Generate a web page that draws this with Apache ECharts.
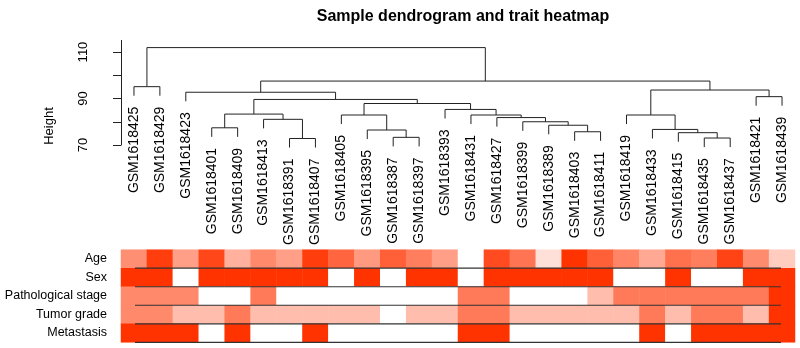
<!DOCTYPE html>
<html>
<head>
	<meta charset="utf-8">
	<title>Sample dendrogram and trait heatmap</title>
</head>
<body style="margin:0">
<script type="text/javascript" src="https://cdn.jsdelivr.net/npm/echarts@6/dist/echarts.min.js"></script>
<div id="container" style="width: 800px;height: 348px;"></div>
<script type="text/javascript">
	// 样本顺序（树的叶子，从左到右）
	var leaves = ['GSM1618425','GSM1618429','GSM1618423','GSM1618401','GSM1618409','GSM1618413',
		'GSM1618391','GSM1618407','GSM1618405','GSM1618395','GSM1618387','GSM1618397','GSM1618393',
		'GSM1618431','GSM1618427','GSM1618399','GSM1618389','GSM1618403','GSM1618411','GSM1618419',
		'GSM1618433','GSM1618415','GSM1618435','GSM1618437','GSM1618421','GSM1618439'];

	// hclust 风格的合并表：负数 = 叶子(-序号)，正数 = 之前的合并行号(从1开始)
	var mergeA = [-7, -11, -23, -22, -18, -21, -10, -4, -17, -16, -6, -15, -9, -14, -20, 8, -13, 13, 16, -25, -3, 15, -1, 21, 23];
	var mergeB = [-8, -12, -24, 3, -19, 4, 2, -5, 5, 9, 1, 10, 7, 12, 6, 11, 14, 17, 18, -26, 19, 20, -2, 22, 24];
	var mergeHeight = [72.8, 73.3, 73.0, 75.3, 75.7, 76.7, 76.45, 77.4, 78.5, 80.0, 81.05, 81.8, 82.9, 82.9, 82.9,
		83.3, 85.3, 87.85, 89.6, 90.8, 92.7, 93.65, 95.1, 97.5, 111.9];
	var leafHang = 3.9;

	// 性状热图
	var traits = ['Age', 'Sex', 'Pathological stage', 'Tumor grade', 'Metastasis'];
	var age = [0.55,0.95,0.47,0.9,0.38,0.58,0.47,0.95,0.75,0.5,0.78,0.63,0.47,0,0.88,0.68,0.15,1,0.78,0.6,0.42,0.7,0.63,0.92,0.57,0.25];
	var sex = [1,1,0,1,1,1,1,1,0,1,0,1,1,0,1,1,1,1,1,0,0,1,0,0,1,1];
	var stage = [0.58,0.58,0.58,0,0,0.65,0,0,0,0,0,0,0,0.65,0.65,0,0,0,0.32,0.65,0.65,0.65,0.65,0.65,0.65,1];
	var grade = [0.58,0.58,0.32,0.32,0.65,0.32,0.32,0.32,0.32,0.32,0,0.32,0.32,0.65,0.65,0.32,0.32,0.32,0.32,0.32,0.65,0.32,0.65,0.65,0.32,1];
	var meta = [1,1,1,0,1,0,0,1,0,0,0,0,0,1,1,0,0,0,0,0,1,0,1,1,1,1];

	var font = 'Liberation Sans, Arial, Helvetica, sans-serif';

	// 计算每个节点的位置
	var nodeX = [], nodeH = [];
	var leafBottom = [];
	function childX(c) { return c < 0 ? (-c - 1) + 0.5 : nodeX[c - 1]; }
	var mergeData = [];
	for (var k = 0; k < mergeA.length; k++) {
		var a = mergeA[k], b = mergeB[k], h = mergeHeight[k];
		var xa = childX(a), xb = childX(b);
		nodeX.push((xa + xb) / 2);
		nodeH.push(h);
		var ya = a < 0 ? h - leafHang : nodeH[a - 1];
		var yb = b < 0 ? h - leafHang : nodeH[b - 1];
		if (a < 0) leafBottom[-a - 1] = ya;
		if (b < 0) leafBottom[-b - 1] = yb;
		mergeData.push([xa, xb, h, ya, yb]);
	}
	var leafData = [];
	for (var i = 0; i < leaves.length; i++) {
		leafData.push([i + 0.5, leafBottom[i]]);
	}

	var heatData = [];
	var rows = [age, sex, stage, grade, meta];
	for (var r = 0; r < rows.length; r++) {
		for (var c = 0; c < leaves.length; c++) {
			heatData.push([c, r, rows[r][c]]);
		}
	}
	var sepData = [];
	for (var r = 0; r < traits.length; r++) sepData.push([0, r]);

	var myChart = echarts.init(document.getElementById('container'));
	var option = {
		backgroundColor: '#fff',
		animation: false,
		title: {
			text: 'Sample dendrogram and trait heatmap',
			left: 458, top: 4, textAlign: 'center',
			textStyle: { fontFamily: font, fontSize: 16, fontWeight: 'bold', color: '#000' }
		},
		graphic: [{
			type: 'text', x: 49, y: 126, rotation: Math.PI / 2,
			style: { text: 'Height', fontFamily: font, fontSize: 13, fill: '#000', align: 'center', verticalAlign: 'middle' }
		}],
		grid: [
			{ left: 121, right: 5, top: 40.4, height: 104.6 },
			{ left: 121, right: 5, top: 249.7, height: 92.6 },
			{ left: 135, right: 19, top: 249.7, height: 92.6 }
		],
		xAxis: [
			{ gridIndex: 0, type: 'value', min: 0, max: leaves.length, show: false },
			{ gridIndex: 1, type: 'category', data: leaves, show: false },
			{ gridIndex: 2, type: 'value', min: 0, max: 1, show: false }
		],
		yAxis: [
			{
				gridIndex: 0, type: 'value', min: 70, max: 115, offset: 11,
				axisLine: { show: true, lineStyle: { color: '#222', width: 1 } },
				axisTick: { show: true, length: 8, customValues: [70, 80, 90, 100, 110], lineStyle: { color: '#222' } },
				axisLabel: { customValues: [70, 90, 110], rotate: 90, margin: 20, fontFamily: font, fontSize: 13, color: '#000' },
				splitLine: { show: false }
			},
			{
				gridIndex: 1, type: 'category', data: traits, inverse: true,
				axisLine: { show: false }, axisTick: { show: false },
				axisLabel: { margin: 14, fontFamily: font, fontSize: 12.5, color: '#000' }
			},
			{ gridIndex: 2, type: 'value', min: 0, max: traits.length, inverse: true, show: false }
		],
		visualMap: {
			show: false, min: 0, max: 1, seriesIndex: 2,
			inRange: { color: ['#ffffff', '#ff3300'] }
		},
		series: [
			{
				// 树的分支
				type: 'custom', xAxisIndex: 0, yAxisIndex: 0, clip: false,
				data: mergeData,
				renderItem: function (params, api) {
					var p1 = api.coord([api.value(0), api.value(3)]);
					var p2 = api.coord([api.value(0), api.value(2)]);
					var p3 = api.coord([api.value(1), api.value(2)]);
					var p4 = api.coord([api.value(1), api.value(4)]);
					return {
						type: 'polyline',
						shape: { points: [p1, p2, p3, p4] },
						style: { stroke: '#222', lineWidth: 1, fill: null }
					};
				}
			},
			{
				// 叶子标签
				type: 'custom', xAxisIndex: 0, yAxisIndex: 0, clip: false,
				data: leafData,
				renderItem: function (params, api) {
					var p = api.coord([api.value(0), api.value(1)]);
					return {
						type: 'text', x: p[0], y: p[1] + 11, rotation: Math.PI / 2,
						style: {
							text: leaves[params.dataIndex], fontFamily: font, fontSize: 14,
							fill: '#000', align: 'right', verticalAlign: 'middle'
						}
					};
				}
			},
			{
				type: 'heatmap', xAxisIndex: 1, yAxisIndex: 1,
				data: heatData
			},
			{
				// 行分隔线
				type: 'custom', xAxisIndex: 2, yAxisIndex: 2, z: 5,
				data: sepData,
				renderItem: function (params, api) {
					var p1 = api.coord([0, api.value(1) + 1]);
					var p2 = api.coord([1, api.value(1) + 1]);
					return {
						type: 'line',
						shape: { x1: p1[0], y1: p1[1], x2: p2[0], y2: p2[1] },
						style: { stroke: '#333', lineWidth: 1.2 }
					};
				}
			}
		]
	};
	myChart.setOption(option);
	window.addEventListener('resize', myChart.resize);
</script>
</body>
</html>
